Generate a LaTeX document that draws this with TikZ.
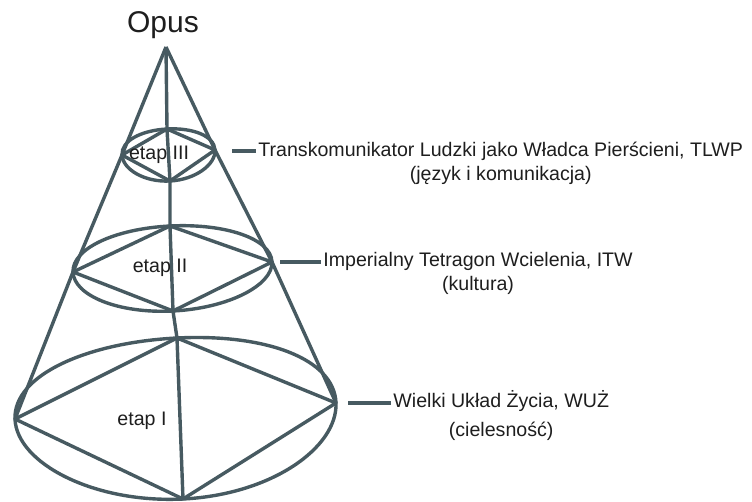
\documentclass[tikz,border=0pt]{standalone}
\usepackage{fontspec}
\setmainfont{Liberation Sans}
\usetikzlibrary{calc, positioning}
\definecolor{conegray}{HTML}{475A61}
\definecolor{textgray}{HTML}{1E1E1E}
\tikzset{
	coneline/.style={
			draw=conegray,
			line width=1.7pt,
			line join=round
		},
	etapnode/.style={
			font=\fontsize{9.8}{11.5}\selectfont,
			text=textgray,
			inner sep=0pt
		},
	opusnode/.style={
			etapnode,
			font=\fontsize{15}{17}\selectfont
		},
	levelnode/.style={
			etapnode,
			align=center,
			inner sep=1pt,
			font=\fontsize{9.8}{12}\selectfont
		}
}
% oval through left, top, right, bottom point, with its rhombus
\newcommand{\coneoval}[4]{%
  \draw[coneline] (#1)
    .. controls ($(#1)+0.276*(#2)-0.276*(#4)$) and ($(#2)+0.276*(#1)-0.276*(#3)$) .. (#2)
    .. controls ($(#2)+0.276*(#3)-0.276*(#1)$) and ($(#3)+0.276*(#2)-0.276*(#4)$) .. (#3)
    .. controls ($(#3)+0.276*(#4)-0.276*(#2)$) and ($(#4)+0.276*(#3)-0.276*(#1)$) .. (#4)
    .. controls ($(#4)+0.276*(#1)-0.276*(#3)$) and ($(#1)+0.276*(#4)-0.276*(#2)$) .. (#1) -- cycle;
  \draw[coneline] (#1) -- (#2) -- (#3) -- (#4) -- cycle;
}

\begin{document}
\begin{tikzpicture}[x=0.5pt, y=-0.5pt]
\useasboundingbox (0,0) rectangle (752,502);
    \coordinate (apex) at (166,47);
    % etap III
    \coordinate (l3) at (122,155);
    \coordinate (t3) at (167,129);
    \coordinate (r3) at (215,150);
    \coordinate (b3) at (170,181);
    % etap II
    \coordinate (l2) at (73,272);
    \coordinate (t2) at (170,226);
    \coordinate (r2) at (272,262);
    \coordinate (b2) at (173,311);
    % etap I
    \coordinate (l1) at (15,419);
    \coordinate (t1) at (177,338);
    \coordinate (r1) at (336,403);
    \coordinate (b1) at (183,499);

    \coneoval{l3}{t3}{r3}{b3}
    \coneoval{l2}{t2}{r2}{b2}
    \coneoval{l1}{t1}{r1}{b1}

    \draw[coneline] (apex) -- (l3) -- (l2) -- (l1);
    \draw[coneline] (apex) -- (r3) -- (r2) -- (r1);
    \draw[coneline] (apex) -- (t3) -- (b3) -- (t2) -- (b2) -- (t1) -- (b1);

    \node[opusnode, anchor=base] (opus) at (163,33) {Opus};
    \node[etapnode, anchor=base] (etap3) at (159,160) {etap III};
    \node[etapnode, anchor=base] (etap2) at (160,273) {etap II};
    \node[etapnode, anchor=base] (etap1) at (142,426) {etap I};

    \node[levelnode, anchor=base west] (tlwp) at (256,181)
        {Transkomunikator Ludzki jako Władca Pierścieni, TLWP\\(język i komunikacja)};
    \node[levelnode, anchor=base west] (itw) at (321,291)
        {Imperialny Tetragon Wcielenia, ITW\\(kultura)};
    \node[levelnode, anchor=base west] (wuz) at (391,437)
        {Wielki Układ Życia, WUŻ\\[2.5pt](cielesność)};

    \coordinate (k3) at (232,151);
    \coordinate (k2) at (280,262);
    \coordinate (k1) at (348,403);
    \draw[coneline] (k3) -- (k3 -| tlwp.west);
    \draw[coneline] (k2) -- (k2 -| itw.west);
    \draw[coneline] (k1) -- (k1 -| wuz.west);
\end{tikzpicture}
\end{document}
